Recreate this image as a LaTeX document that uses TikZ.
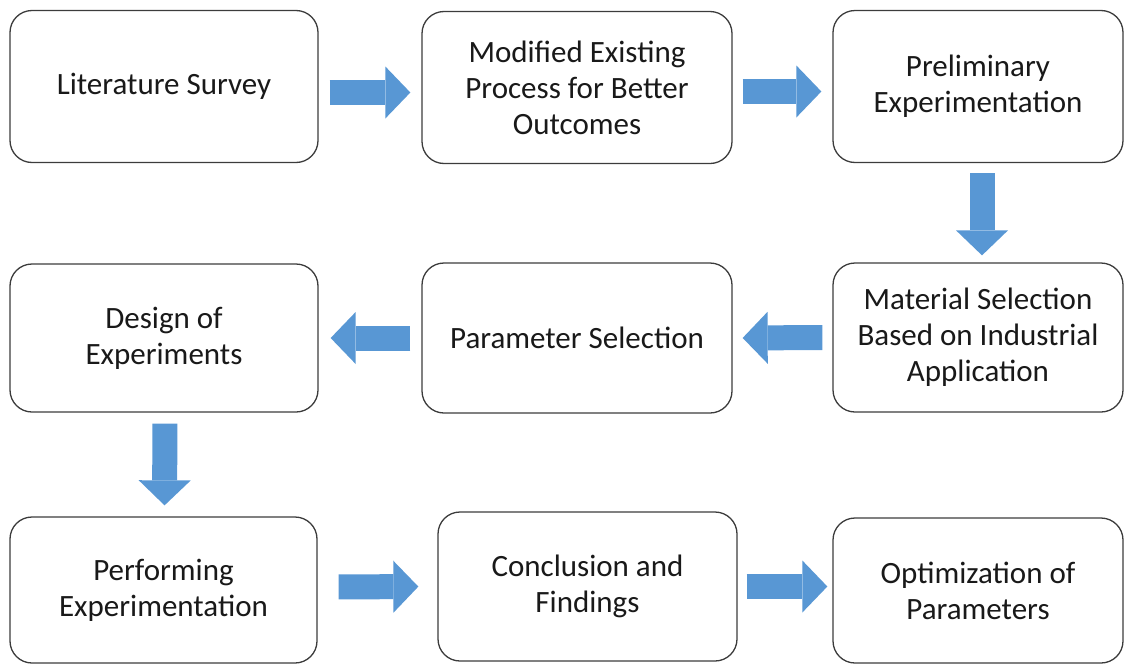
\documentclass[tikz,border=0pt]{standalone}
\usepackage{fontspec}
\setmainfont{Carlito}
\usetikzlibrary{arrows.meta}

\definecolor{flowblue}{RGB}{88,151,212}
\definecolor{boxline}{RGB}{60,60,60}

\tikzset{
    stage/.style = {draw=boxline, line width=1.3pt, rounded corners=22pt, fill=white,
        align=center, text=black!90, minimum width=308pt, minimum height=152pt,
        font=\fontsize{31}{36}\selectfont},
    flow/.style = {draw=flowblue, line width=25pt,
        -{Triangle[length=25pt, width=52pt, line width=0pt]}},
}

\begin{document}
\begin{tikzpicture}[x=1pt, y=-1pt]
    \useasboundingbox (0,0) rectangle (1124,664);

    % top row
    \node [stage] (lit) at (164,86.5) {Literature Survey};
    \node [stage, minimum width=310pt] (mod) at (577,87.5) {Modified Existing\\Process for Better\\Outcomes};
    \node [stage, minimum width=290pt] (pre) at (978,86.5) {Preliminary\\Experimentation};

    % middle row
    \node [stage, minimum height=148pt] (des) at (164,338) {Design of\\Experiments};
    \node [stage, minimum width=310pt, minimum height=150pt] (par) at (577,338) {Parameter Selection};
    \node [stage, minimum width=290pt, minimum height=149pt] (mat) at (978,337.5) {Material Selection\\Based on Industrial\\Application};

    % bottom row
    \node [stage, minimum width=307pt, minimum height=146pt] (perf) at (163.5,590) {Performing\\Experimentation};
    \node [stage, minimum width=299pt, minimum height=149pt] (conc) at (587.5,586.5) {Conclusion and\\Findings};
    \node [stage, minimum width=290pt, minimum height=145pt] (opt) at (978,590.5) {Optimization of\\Parameters};

    % block arrows
    \draw [flow, shorten <=11pt, shorten >=11pt] ([yshift=-6pt]lit.east) -- ([yshift=-5pt]mod.west);
    \draw [flow, shorten <=10pt, shorten >=11pt] ([yshift=-4pt]mod.east) -- ([yshift=-5pt]pre.west);
    \draw [flow, shorten <=10pt, shorten >=7pt] ([xshift=4pt]pre.south) -- ([xshift=4pt]mat.north);
    \draw [flow, shorten <=10pt, shorten >=10pt] (mat.west) -- (par.east);
    \draw [flow, shorten <=11pt, shorten >=12pt] (par.west) -- (des.east);
    \draw [flow, shorten <=11pt, shorten >=11pt] ([xshift=1pt]des.south) -- ([xshift=1pt]perf.north);
    \draw [flow, shorten <=21pt, shorten >=19pt] ([yshift=3pt]perf.east) -- (conc.west);
    \draw [flow, shorten <=9pt, shorten >=5pt] (conc.east) -- ([yshift=4pt]opt.west);
\end{tikzpicture}
\end{document}
